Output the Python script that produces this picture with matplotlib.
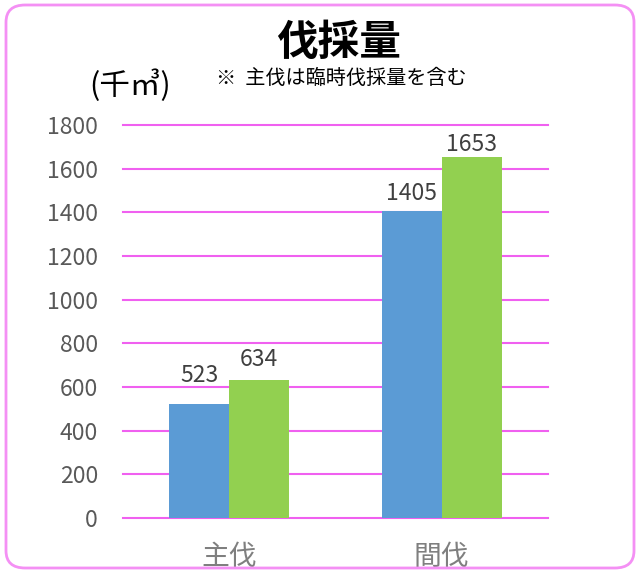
import matplotlib
matplotlib.use("Agg")
import matplotlib.pyplot as plt
from matplotlib.patches import FancyBboxPatch
import numpy as np

plt.rcParams['font.family'] = ['Noto Sans CJK JP', 'DejaVu Sans']

categories = ["主伐", "間伐"]
series_a = [523, 1405]
series_b = [634, 1653]
y_ticks = [0, 200, 400, 600, 800, 1000, 1200, 1400, 1600, 1800]

W, H = 639, 573
fig = plt.figure(figsize=(W / 100, H / 100), dpi=100)

# rounded pink frame around the whole chart
frame = FancyBboxPatch((6 / W, 5 / H), 628 / W, 563 / H,
                       boxstyle="round,pad=0,rounding_size=0.03",
                       transform=fig.transFigure, fill=False,
                       edgecolor="#f490f4", linewidth=2)
fig.patches.append(frame)

ax = fig.add_axes([123 / W, (H - 518) / H, 425 / W, 393 / H])
x = np.arange(len(categories))
bw = 0.283

# horizontal gridlines, including the ones on the axis limits
for t in y_ticks:
    ax.axhline(t, color="#f060f0", linewidth=1.5, zorder=1, clip_on=False)

ax.bar(x - bw / 2, series_a, bw, color="#5b9bd5", zorder=3)
ax.bar(x + bw / 2, series_b, bw, color="#92d050", zorder=3)

# value labels, each lifted a little above its bar
lift_a = [22, 11]
lift_b = [14, 6]
for xi, v, d in zip(x - bw / 2, series_a, lift_a):
    ax.annotate(str(v), (xi, v), xytext=(0, d), textcoords="offset pixels",
                ha="center", va="baseline", fontsize=16.5, color="#404040")
for xi, v, d in zip(x + bw / 2, series_b, lift_b):
    ax.annotate(str(v), (xi, v), xytext=(0, d), textcoords="offset pixels",
                ha="center", va="baseline", fontsize=16.5, color="#404040")

ax.set_xlim(-0.5, 1.5)
ax.set_ylim(0, 1800)
ax.set_yticks(y_ticks)
ax.set_yticklabels([str(t) for t in y_ticks], fontsize=16.5, color="#595959")
ax.set_xticks(x)
ax.set_xticklabels(categories, fontsize=20, color="#7f7f7f")
ax.tick_params(axis="both", length=0)
ax.tick_params(axis="y", pad=18)
ax.tick_params(axis="x", pad=17)
for s in ax.spines.values():
    s.set_visible(False)

fig.text(338 / W, 1 - 43 / H, "伐採量", ha="center", va="center",
         fontsize=30, fontweight="bold", color="black")
fig.text(130 / W, 1 - 86 / H, "(千㎥)", ha="center", va="center",
         fontsize=22, color="black")
fig.text(341 / W, 1 - 78 / H, "※  主伐は臨時伐採量を含む", ha="center", va="center",
         fontsize=14.5, color="black")

fig.savefig("out.png", dpi=100)
